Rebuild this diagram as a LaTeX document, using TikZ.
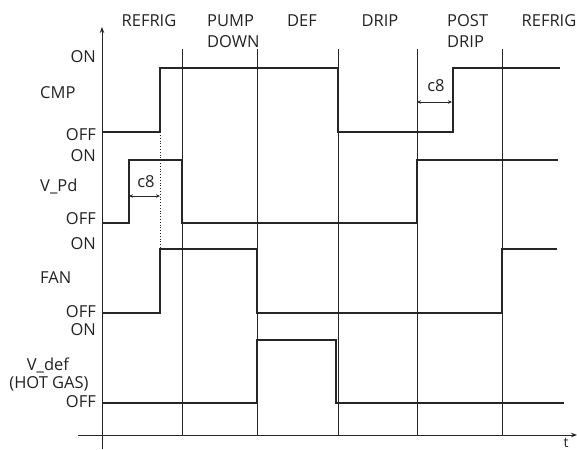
\documentclass[tikz,border=0pt]{standalone}
\usepackage{fontspec}
\setmainfont{Open Sans}
\usetikzlibrary{arrows.meta}
\definecolor{ink}{HTML}{262626}
\definecolor{txt}{HTML}{222222}
\begin{document}
\begin{tikzpicture}[x=1pt,y=-1pt,
  lbl/.style={font=\fontsize{16.5}{20}\selectfont, text=txt, inner sep=0pt, anchor=base},
  lblr/.style={lbl, anchor=base east},
  lbll/.style={lbl, anchor=base west},
  gridln/.style={draw=ink, line width=0.8pt},
  axis/.style={draw=ink, line width=0.9pt, -{Stealth[length=6pt,width=4.5pt]}},
  sig/.style={draw=ink, line width=1.9pt, line join=miter},
  dimarr/.style={draw=ink, line width=0.7pt, {Stealth[length=4pt,width=3.5pt]}-{Stealth[length=4pt,width=3.5pt]}},
  dotln/.style={draw=ink, line width=0.8pt, dotted}]
\useasboundingbox (0,0) rectangle (577,449);

% axes
\coordinate (yb) at (102,449);
\coordinate (yt) at (102,27);
\coordinate (xl) at (78,435);
\coordinate (xr) at (577,435);
\draw[axis] (yb) -- (yt);
\draw[axis] (xl) -- (xr);
\node[lbl, font=\fontsize{14}{16}\selectfont] (t) at (566,447) {t};

% phase boundaries
\foreach \x/\n in {182/b1,257/b2,338/b3,417/b4,502/b5}{
  \coordinate (\n t) at (\x,49);
  \coordinate (\n b) at (\x,435);
  \draw[gridln] (\n t) -- (\n b);
}

% phase labels
\node[lbl] (p1) at (149,27) {REFRIG};
\node[lbll] (p2a) at (207,27) {PUMP};
\node[lbll] (p2b) at (207,48) {DOWN};
\node[lbl] (p3) at (302,27) {DEF};
\node[lbl] (p4) at (380,27) {DRIP};
\node[lbll] (p5a) at (447,27) {POST};
\node[lbll] (p5b) at (447,48) {DRIP};
\node[lbl] (p6) at (549,27) {REFRIG};

% left labels
\node[lblr] (on1) at (96,63) {ON};
\node[lbll] (cmp) at (40,99) {CMP};
\node[lblr] (off1) at (96,140) {OFF};
\node[lblr] (on2) at (96,161) {ON};
\node[lbll] (vpd) at (40,191) {V\_Pd};
\node[lblr] (off2) at (96,224) {OFF};
\node[lblr] (on3) at (96,249) {ON};
\node[lbll] (fan) at (40,283) {FAN};
\node[lblr] (off3) at (96,317) {OFF};
\node[lblr] (on4) at (96,335) {ON};
\node[lbl] (vdef) at (48,370) {V\_def};
\node[lbl] (hot) at (49,388) {(HOT GAS)};
\node[lblr] (off4) at (96,407) {OFF};

% signals
\draw[sig] (102,132) -- (160,132) -- (160,68) -- (338,68) -- (338,132) -- (453,132) -- (453,68) -- (560,68);
\draw[sig] (102,223) -- (129,223) -- (129,160) -- (182,160) -- (182,223) -- (417,223) -- (417,160) -- (558,160);
\draw[sig] (102,313) -- (160,313) -- (160,249) -- (257,249) -- (257,313) -- (502,313) -- (502,249) -- (557,249);
\draw[sig] (102,403) -- (257,403) -- (257,340) -- (336,340) -- (336,403) -- (564,403);

% dotted
\coordinate (d1) at (160,135);
\coordinate (d2) at (160,248);
\draw[dotln] (d1) -- (d2);

% c8 dimensions
\coordinate (c1a) at (129,196);
\coordinate (c1b) at (160,196);
\draw[dimarr] (c1a) -- (c1b);
\node[lbl] (c8a) at (146,187) {c8};
\coordinate (c2a) at (417,102);
\coordinate (c2b) at (452,102);
\draw[dimarr] (c2a) -- (c2b);
\node[lbl] (c8b) at (436,92) {c8};
\end{tikzpicture}
\end{document}
